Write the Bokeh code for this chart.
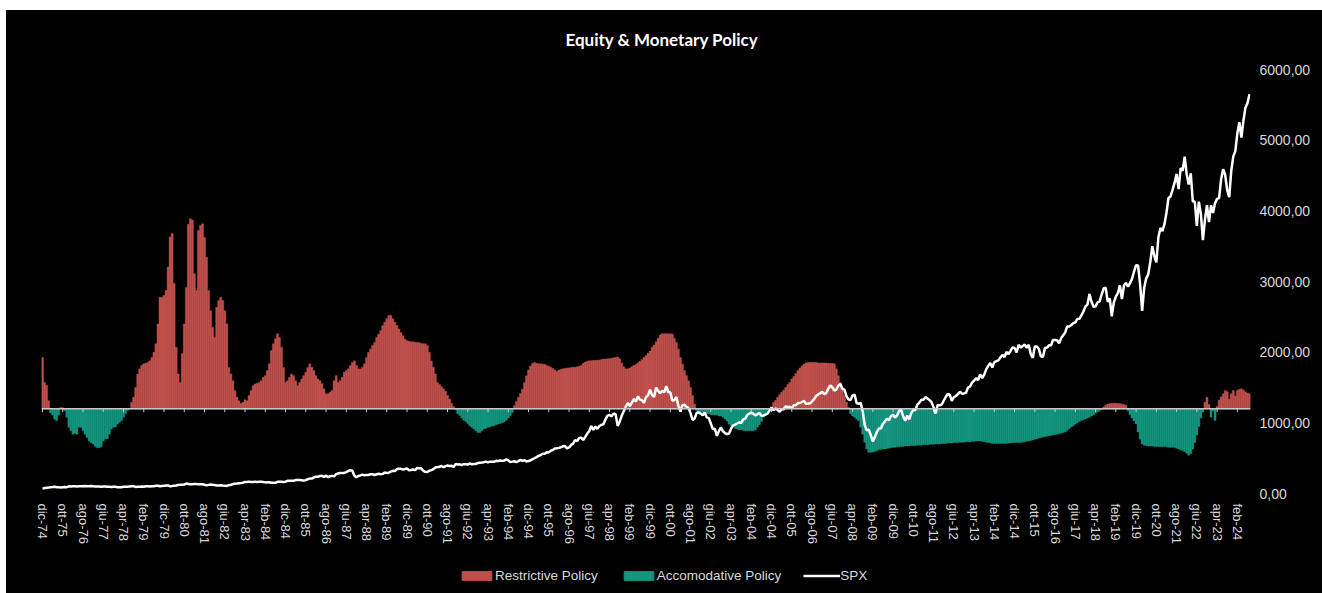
import math
import numpy as np
from bokeh.plotting import figure
from bokeh.layouts import column
from bokeh.models import (ColumnDataSource, Range1d, LinearAxis, FixedTicker, Span,
                          Legend, LegendItem)
from bokeh.embed import file_html
from bokeh.resources import INLINE

# ---------------- data ----------------
month_names = ["gen", "feb", "mar", "apr", "mag", "giu", "lug", "ago", "set", "ott", "nov", "dic"]

tick_labels = ["dic-74", "ott-75", "ago-76", "giu-77", "apr-78", "feb-79", "dic-79", "ott-80",
               "ago-81", "giu-82", "apr-83", "feb-84", "dic-84", "ott-85", "ago-86", "giu-87",
               "apr-88", "feb-89", "dic-89", "ott-90", "ago-91", "giu-92", "apr-93", "feb-94",
               "dic-94", "ott-95", "ago-96", "giu-97", "apr-98", "feb-99", "dic-99", "ott-00",
               "ago-01", "giu-02", "apr-03", "feb-04", "dic-04", "ott-05", "ago-06", "giu-07",
               "apr-08", "feb-09", "dic-09", "ott-10", "ago-11", "giu-12", "apr-13", "feb-14",
               "dic-14", "ott-15", "ago-16", "giu-17", "apr-18", "feb-19", "dic-19", "ott-20",
               "ago-21", "giu-22", "apr-23", "feb-24"]

spx_ticks = [0, 1000, 2000, 3000, 4000, 5000, 6000]
spx_tick_labels = ["0,00", "1000,00", "2000,00", "3000,00", "4000,00", "5000,00", "6000,00"]

series_names = ["Restrictive Policy", "Accomodative Policy", "SPX"]

# monetary policy stance (monthly, dic-74 .. ago-24); >0 restrictive, <0 accomodative
policy = (
    [1.21] +  # 1974 dic
    [0.62, 0.55, 0.19, -0.10, -0.15, -0.25, -0.28, -0.15, 0.03, 0.02, -0.05, -0.20] +  # 1975
    [-0.44, -0.52, -0.60, -0.58, -0.60, -0.44, -0.44, -0.52, -0.60, -0.68, -0.76, -0.80] +  # 1976
    [-0.83, -0.89, -0.92, -0.92, -0.90, -0.76, -0.71, -0.71, -0.60, -0.48, -0.44, -0.43] +  # 1977
    [-0.36, -0.32, -0.28, -0.20, -0.12, -0.04, 0.00, 0.15, 0.27, 0.50, 0.82, 0.94] +  # 1978
    [1.02, 1.06, 1.07, 1.09, 1.13, 1.21, 1.33, 1.53, 2.00, 2.63, 2.63, 2.67] +  # 1979
    [2.79, 3.34, 4.05, 4.13, 2.95, 1.45, 0.82, 0.62, 1.30, 2.00, 2.86, 4.35] +  # 1980
    [4.48, 4.45, 3.18, 2.79, 4.20, 4.32, 4.36, 4.04, 3.57, 2.79, 2.31, 1.92] +  # 1981
    [1.68, 2.39, 2.55, 2.63, 2.55, 2.31, 2.00, 0.97, 0.82, 0.66, 0.43, 0.27] +  # 1982
    [0.19, 0.12, 0.15, 0.21, 0.19, 0.31, 0.43, 0.54, 0.58, 0.60, 0.62, 0.66] +  # 1983
    [0.74, 0.78, 0.90, 1.06, 1.37, 1.53, 1.65, 1.77, 1.68, 1.45, 0.97, 0.62] +  # 1984
    [0.66, 0.74, 0.82, 0.78, 0.66, 0.54, 0.62, 0.70, 0.78, 0.86, 0.97, 1.06] +  # 1985
    [0.98, 0.90, 0.78, 0.70, 0.66, 0.59, 0.47, 0.35, 0.35, 0.39, 0.43, 0.66] +  # 1986
    [0.78, 0.62, 0.66, 0.74, 0.86, 0.90, 0.94, 1.02, 1.09, 1.13, 1.02, 0.94] +  # 1987
    [0.94, 0.98, 1.06, 1.21, 1.33, 1.41, 1.49, 1.56, 1.68, 1.76, 1.84, 1.96] +  # 1988
    [2.04, 2.12, 2.20, 2.20, 2.12, 2.04, 1.96, 1.88, 1.80, 1.72, 1.64, 1.60] +  # 1989
    [1.59, 1.58, 1.58, 1.57, 1.56, 1.56, 1.54, 1.53, 1.53, 1.49, 1.33, 1.13] +  # 1990
    [0.98, 0.82, 0.62, 0.57, 0.52, 0.47, 0.41, 0.31, 0.23, 0.13, 0.05, -0.03] +  # 1991
    [-0.12, -0.16, -0.22, -0.27, -0.30, -0.35, -0.40, -0.44, -0.48, -0.52, -0.56, -0.56] +  # 1992
    [-0.52, -0.48, -0.46, -0.44, -0.43, -0.41, -0.40, -0.38, -0.36, -0.35, -0.33, -0.31] +  # 1993
    [-0.27, -0.22, -0.16, -0.09, 0.07, 0.17, 0.27, 0.36, 0.46, 0.62, 0.78, 0.91] +  # 1994
    [1.01, 1.07, 1.09, 1.07, 1.06, 1.06, 1.05, 1.05, 1.02, 1.00, 0.98, 0.95] +  # 1995
    [0.91, 0.88, 0.91, 0.93, 0.94, 0.95, 0.96, 0.96, 0.97, 0.98, 0.98, 0.99] +  # 1996
    [1.00, 1.02, 1.07, 1.10, 1.12, 1.13, 1.13, 1.14, 1.14, 1.14, 1.15, 1.16] +  # 1997
    [1.17, 1.17, 1.18, 1.18, 1.19, 1.20, 1.21, 1.22, 1.18, 1.08, 0.99, 0.94] +  # 1998
    [0.94, 0.96, 0.99, 1.02, 1.04, 1.08, 1.12, 1.16, 1.21, 1.25, 1.31, 1.36] +  # 1999
    [1.45, 1.50, 1.58, 1.66, 1.74, 1.77, 1.77, 1.77, 1.77, 1.77, 1.76, 1.66] +  # 2000
    [1.56, 1.41, 1.21, 1.05, 0.90, 0.78, 0.66, 0.50, 0.31, 0.11, -0.05, -0.09] +  # 2001
    [-0.09, -0.09, -0.10, -0.12, -0.12, -0.14, -0.14, -0.15, -0.15, -0.17, -0.17, -0.20] +  # 2002
    [-0.24, -0.29, -0.36, -0.40, -0.42, -0.46, -0.48, -0.50, -0.50, -0.51, -0.52, -0.52] +  # 2003
    [-0.52, -0.52, -0.52, -0.50, -0.44, -0.38, -0.30, -0.20, -0.14, -0.06, -0.01, 0.05] +  # 2004
    [0.15, 0.20, 0.27, 0.33, 0.39, 0.44, 0.50, 0.57, 0.62, 0.70, 0.76, 0.83] +  # 2005
    [0.90, 0.96, 1.01, 1.05, 1.08, 1.09, 1.09, 1.09, 1.09, 1.09, 1.08, 1.08] +  # 2006
    [1.08, 1.08, 1.08, 1.07, 1.07, 1.07, 1.06, 0.94, 0.78, 0.62, 0.46, 0.31] +  # 2007
    [0.15, 0.03, -0.12, -0.17, -0.20, -0.24, -0.28, -0.44, -0.60, -0.79, -0.95, -1.03] +  # 2008
    [-1.03, -1.02, -1.01, -0.99, -0.97, -0.96, -0.95, -0.95, -0.94, -0.93, -0.92, -0.91] +  # 2009
    [-0.91, -0.90, -0.90, -0.89, -0.89, -0.88, -0.88, -0.88, -0.87, -0.87, -0.87, -0.86] +  # 2010
    [-0.86, -0.86, -0.85, -0.85, -0.85, -0.84, -0.84, -0.84, -0.83, -0.83, -0.83, -0.82] +  # 2011
    [-0.82, -0.82, -0.81, -0.81, -0.81, -0.80, -0.80, -0.80, -0.79, -0.79, -0.79, -0.78] +  # 2012
    [-0.78, -0.78, -0.77, -0.77, -0.76, -0.76, -0.76, -0.77, -0.78, -0.79, -0.80, -0.81] +  # 2013
    [-0.82, -0.82, -0.82, -0.82, -0.82, -0.82, -0.82, -0.82, -0.81, -0.81, -0.80, -0.80] +  # 2014
    [-0.80, -0.80, -0.80, -0.79, -0.78, -0.77, -0.76, -0.75, -0.74, -0.72, -0.71, -0.69] +  # 2015
    [-0.68, -0.67, -0.66, -0.65, -0.64, -0.63, -0.62, -0.61, -0.60, -0.59, -0.58, -0.56] +  # 2016
    [-0.55, -0.51, -0.47, -0.43, -0.40, -0.36, -0.33, -0.30, -0.28, -0.26, -0.24, -0.22] +  # 2017
    [-0.20, -0.17, -0.14, -0.11, -0.08, -0.05, -0.02, 0.04, 0.08, 0.11, 0.12, 0.13] +  # 2018
    [0.13, 0.13, 0.12, 0.12, 0.11, 0.10, 0.08, -0.05, -0.14, -0.22, -0.29, -0.36] +  # 2019
    [-0.55, -0.72, -0.83, -0.86, -0.87, -0.88, -0.88, -0.88, -0.89, -0.89, -0.89, -0.90] +  # 2020
    [-0.90, -0.90, -0.90, -0.91, -0.91, -0.91, -0.91, -0.93, -0.95, -0.97, -0.99, -1.01] +  # 2021
    [-1.05, -1.10, -1.06, -0.95, -0.80, -0.62, -0.42, -0.22, -0.08, 0.15, 0.27, 0.10] +  # 2022
    [-0.20, -0.05, -0.28, 0.05, 0.20, 0.28, 0.35, 0.43, 0.40, 0.23, 0.35, 0.43] +  # 2023
    [0.30, 0.43, 0.46, 0.47, 0.44, 0.40, 0.37, 0.35]  # 2024 gen-ago
)

# S&P 500 monthly close (dic-74 .. ago-24)
spx = (
    [68.6] +
    [76.98, 81.59, 83.36, 87.30, 91.15, 95.19, 88.75, 86.88, 83.87, 89.04, 91.24, 90.19] +
    [100.86, 99.71, 102.77, 101.64, 100.18, 104.28, 103.44, 102.91, 105.24, 102.90, 102.10, 107.46] +
    [102.03, 99.82, 98.42, 98.44, 96.12, 100.48, 98.85, 96.77, 96.53, 92.34, 94.83, 95.10] +
    [89.25, 87.04, 89.21, 96.83, 97.24, 95.53, 100.68, 103.29, 102.54, 93.15, 94.70, 96.11] +
    [99.93, 96.28, 101.59, 101.76, 99.08, 102.91, 103.81, 109.32, 109.32, 101.82, 106.16, 107.94] +
    [114.16, 113.66, 102.09, 106.29, 111.24, 114.24, 121.67, 122.38, 125.46, 127.47, 140.52, 135.76] +
    [129.55, 131.27, 136.00, 132.81, 132.59, 131.21, 130.92, 122.79, 116.18, 121.89, 126.35, 122.55] +
    [120.40, 113.11, 111.96, 116.44, 111.88, 109.61, 107.09, 119.51, 120.42, 133.71, 138.54, 140.64] +
    [145.30, 148.06, 152.96, 164.42, 162.39, 168.11, 162.56, 164.40, 166.07, 163.55, 166.40, 164.93] +
    [163.41, 157.06, 159.18, 160.05, 150.55, 153.18, 150.66, 166.68, 166.10, 166.09, 163.58, 167.24] +
    [179.63, 181.18, 180.66, 179.83, 189.55, 191.85, 190.92, 188.63, 182.08, 189.82, 202.17, 211.28] +
    [211.78, 226.92, 238.90, 235.52, 247.35, 250.84, 236.12, 252.93, 231.32, 243.98, 249.22, 242.17] +
    [274.08, 284.20, 291.70, 288.36, 290.10, 304.00, 318.66, 329.80, 321.83, 251.79, 230.30, 247.08] +
    [257.07, 267.82, 258.89, 261.33, 262.16, 273.50, 272.02, 261.52, 271.91, 278.97, 273.70, 277.72] +
    [297.47, 288.86, 294.87, 309.64, 320.52, 317.98, 346.08, 351.45, 349.15, 340.36, 345.99, 353.40] +
    [329.08, 331.89, 339.94, 330.80, 361.23, 358.02, 356.15, 322.56, 306.05, 304.00, 322.22, 330.22] +
    [343.93, 367.07, 375.22, 375.34, 389.83, 371.16, 387.81, 395.43, 387.86, 392.46, 375.22, 417.09] +
    [408.79, 412.70, 403.69, 414.95, 415.35, 408.14, 424.21, 414.03, 417.80, 418.68, 431.35, 435.71] +
    [438.78, 443.38, 451.67, 440.19, 450.19, 450.53, 448.13, 463.56, 458.93, 467.83, 461.79, 466.45] +
    [481.61, 467.14, 445.77, 450.91, 456.50, 444.27, 458.26, 475.49, 462.69, 472.35, 453.69, 459.27] +
    [470.42, 487.39, 500.71, 514.71, 533.40, 544.75, 562.06, 561.88, 584.41, 581.50, 605.37, 615.93] +
    [636.02, 640.43, 645.50, 654.17, 669.12, 670.63, 639.95, 651.99, 687.31, 705.27, 757.02, 740.74] +
    [786.16, 790.82, 757.12, 801.34, 848.28, 885.14, 954.29, 899.47, 947.28, 914.62, 955.40, 970.43] +
    [980.28, 1049.34, 1101.75, 1111.75, 1090.82, 1133.84, 1120.67, 957.28, 1017.01, 1098.67, 1163.63, 1229.23] +
    [1279.64, 1238.33, 1286.37, 1335.18, 1301.84, 1372.71, 1328.72, 1320.41, 1282.71, 1362.93, 1388.91, 1469.25] +
    [1394.46, 1366.42, 1498.58, 1452.43, 1420.60, 1454.60, 1430.83, 1517.68, 1436.51, 1429.40, 1314.95, 1320.28] +
    [1366.01, 1239.94, 1160.33, 1249.46, 1255.82, 1224.42, 1211.23, 1133.58, 1040.94, 1059.78, 1139.45, 1148.08] +
    [1130.20, 1106.73, 1147.39, 1076.92, 1067.14, 989.82, 911.62, 916.07, 815.28, 885.76, 936.31, 879.82] +
    [855.70, 841.15, 848.18, 916.92, 963.59, 974.50, 990.31, 1008.01, 995.97, 1050.71, 1058.20, 1111.92] +
    [1131.13, 1144.94, 1126.21, 1107.30, 1120.68, 1140.84, 1101.72, 1104.24, 1114.58, 1130.20, 1173.82, 1211.92] +
    [1181.27, 1203.60, 1180.59, 1156.85, 1191.50, 1191.33, 1234.18, 1220.33, 1228.81, 1207.01, 1249.48, 1248.29] +
    [1280.08, 1280.66, 1294.83, 1310.61, 1270.09, 1270.20, 1276.66, 1303.82, 1335.85, 1377.94, 1400.63, 1418.30] +
    [1438.24, 1406.82, 1420.86, 1482.37, 1530.62, 1503.35, 1455.27, 1473.99, 1526.75, 1549.38, 1481.14, 1468.36] +
    [1378.55, 1330.63, 1322.70, 1385.59, 1400.38, 1280.00, 1267.38, 1282.83, 1166.36, 968.75, 896.24, 903.25] +
    [825.88, 735.09, 797.87, 872.81, 919.14, 919.32, 987.48, 1020.62, 1057.08, 1036.19, 1095.63, 1115.10] +
    [1073.87, 1104.49, 1169.43, 1186.69, 1089.41, 1030.71, 1101.60, 1049.33, 1141.20, 1183.26, 1180.55, 1257.64] +
    [1286.12, 1327.22, 1325.83, 1363.61, 1345.20, 1320.64, 1292.28, 1218.89, 1131.42, 1253.30, 1246.96, 1257.60] +
    [1312.41, 1365.68, 1408.47, 1397.91, 1310.33, 1362.16, 1379.32, 1406.58, 1440.67, 1412.16, 1416.18, 1426.19] +
    [1498.11, 1514.68, 1569.19, 1597.57, 1630.74, 1606.28, 1685.73, 1632.97, 1681.55, 1756.54, 1805.81, 1848.36] +
    [1782.59, 1859.45, 1872.34, 1883.95, 1923.57, 1960.23, 1930.67, 2003.37, 1972.29, 2018.05, 2067.56, 2058.90] +
    [1994.99, 2104.50, 2067.89, 2085.51, 2107.39, 2063.11, 2103.84, 1972.18, 1920.03, 2079.36, 2080.41, 2043.94] +
    [1940.24, 1932.23, 2059.74, 2065.30, 2096.95, 2098.86, 2173.60, 2170.95, 2168.27, 2126.15, 2198.81, 2238.83] +
    [2278.87, 2363.64, 2362.72, 2384.20, 2411.80, 2423.41, 2470.30, 2471.65, 2519.36, 2575.26, 2647.58, 2673.61] +
    [2823.81, 2713.83, 2640.87, 2648.05, 2705.27, 2718.37, 2816.29, 2901.52, 2913.98, 2711.74, 2760.17, 2506.85] +
    [2704.10, 2784.49, 2834.40, 2945.83, 2752.06, 2941.76, 2980.38, 2926.46, 2976.74, 3037.56, 3140.98, 3230.78] +
    [3225.52, 2954.22, 2584.59, 2912.43, 3044.31, 3100.29, 3271.12, 3500.31, 3363.00, 3269.96, 3621.63, 3756.07] +
    [3714.24, 3811.15, 3972.89, 4181.17, 4204.11, 4297.50, 4395.26, 4522.68, 4307.54, 4605.38, 4567.00, 4766.18] +
    [4515.55, 4373.94, 4530.41, 4131.93, 4132.15, 3785.38, 4130.29, 3955.00, 3585.62, 3871.98, 4080.11, 3839.50] +
    [4076.60, 3970.15, 4109.31, 4169.48, 4179.83, 4450.38, 4588.96, 4507.66, 4288.05, 4193.80, 4567.80, 4769.83] +
    [4845.65, 5096.27, 5254.35, 5035.69, 5277.51, 5460.48, 5522.30, 5648.40]
)

# month labels for every observation, starting at dic-74
months = []
yr, mo = 1974, 11
for _ in range(len(policy)):
    months.append(f"{month_names[mo]}-{yr % 100:02d}")
    mo += 1
    if mo == 12:
        mo = 0
        yr += 1

n = len(policy)
xs = list(range(n))
tick_pos = [months.index(t) for t in tick_labels]

src = ColumnDataSource(dict(
    x=xs,
    month=months,
    restrictive=[v if v > 0 else 0 for v in policy],
    accomodative=[v if v < 0 else 0 for v in policy],
    spx=spx,
))

# ---------------- styling ----------------
RED = "#C0504D"
TEAL = "#13957F"
TXT = "#d9d9d9"
FONT = "Liberation Sans"
W = 1316
BG = {"background-color": "black"}

# ---------------- main figure ----------------
p = figure(width=W, height=550, output_backend="svg", toolbar_location=None,
           x_range=Range1d(-0.5, n - 0.5), y_range=Range1d(-2, 8),
           y_axis_location=None,
           min_border_left=35, min_border_right=72, min_border_top=59, min_border_bottom=67,
           background_fill_color="black", border_fill_color=None)
p.styles = BG
p.outline_line_color = None
p.grid.visible = False

p.title.text = "Equity & Monetary Policy"
p.title.align = "left"
p.title.offset = 524
p.title.vertical_align = "top"
p.title.standoff = 36
p.title.text_color = "white"
p.title.text_font = "Lato"
p.title.text_font_style = "bold"
p.title.text_font_size = "17px"

p.extra_y_ranges = {"spx": Range1d(0, 6000)}

p.vbar(x="x", top="restrictive", bottom=0, width=1.0, source=src,
       fill_color=RED, line_color=RED, line_width=0.4)
p.vbar(x="x", top="accomodative", bottom=0, width=1.0, source=src,
       fill_color=TEAL, line_color=TEAL, line_width=0.4)

p.add_layout(Span(location=0, dimension="width", line_color="#c8c8c8", line_width=1.5))
p.segment(x0=tick_pos, y0=[0] * len(tick_pos), x1=tick_pos, y1=[-0.08] * len(tick_pos),
          line_color="#c8c8c8", line_width=1)

p.line(x="x", y="spx", source=src, y_range_name="spx", line_color="white", line_width=2.5)

xa = p.xaxis[0]
xa.ticker = FixedTicker(ticks=tick_pos)
xa.major_label_overrides = {t: lab for t, lab in zip(tick_pos, tick_labels)}
xa.major_label_orientation = -math.pi / 2
xa.axis_line_color = None
xa.major_tick_line_color = None
xa.minor_tick_line_color = None
xa.major_tick_out = 0
xa.major_tick_in = 0
xa.major_label_text_color = TXT
xa.major_label_text_font = FONT
xa.major_label_text_font_size = "13px"
xa.major_label_standoff = 10

ya = LinearAxis(y_range_name="spx", ticker=FixedTicker(ticks=spx_ticks),
                major_label_overrides={t: lab for t, lab in zip(spx_ticks, spx_tick_labels)})
ya.axis_line_color = None
ya.major_tick_line_color = None
ya.minor_tick_line_color = None
ya.major_tick_out = 0
ya.major_tick_in = 0
ya.major_label_text_color = TXT
ya.major_label_text_font = FONT
ya.major_label_text_font_size = "14px"
ya.major_label_standoff = 9
p.add_layout(ya, "right")

# ---------------- legend strip ----------------
lf = figure(width=W, height=33, output_backend="svg", toolbar_location=None,
            x_range=Range1d(0, 1), y_range=Range1d(0, 1),
            x_axis_location=None, y_axis_location=None,
            min_border=0, background_fill_color="black", border_fill_color=None)
lf.styles = BG
lf.outline_line_color = None
lf.grid.visible = False
nan = np.array([np.nan])
lr_red = lf.vbar(x=nan, top=nan, width=0.1, fill_color=RED, line_color=RED)
lr_teal = lf.vbar(x=nan, top=nan, width=0.1, fill_color=TEAL, line_color=TEAL)
lr_spx = lf.line(x=nan, y=nan, line_color="white", line_width=2.5)

legend = Legend(items=[LegendItem(label=series_names[0], renderers=[lr_red]),
                       LegendItem(label=series_names[1], renderers=[lr_teal]),
                       LegendItem(label=series_names[2], renderers=[lr_spx])],
                location=(417, 10), orientation="horizontal",
                glyph_width=37, glyph_height=11, label_height=12, label_standoff=0,
                spacing=22, padding=0, margin=0,
                label_text_color=TXT, label_text_font=FONT, label_text_font_size="13.5px",
                background_fill_alpha=0, border_line_alpha=0)
lf.add_layout(legend)

layout = column(p, lf, spacing=0, margin=(10, 0, 0, 6))
layout.styles = BG

open("out.html", "w").write(file_html(layout, INLINE))
